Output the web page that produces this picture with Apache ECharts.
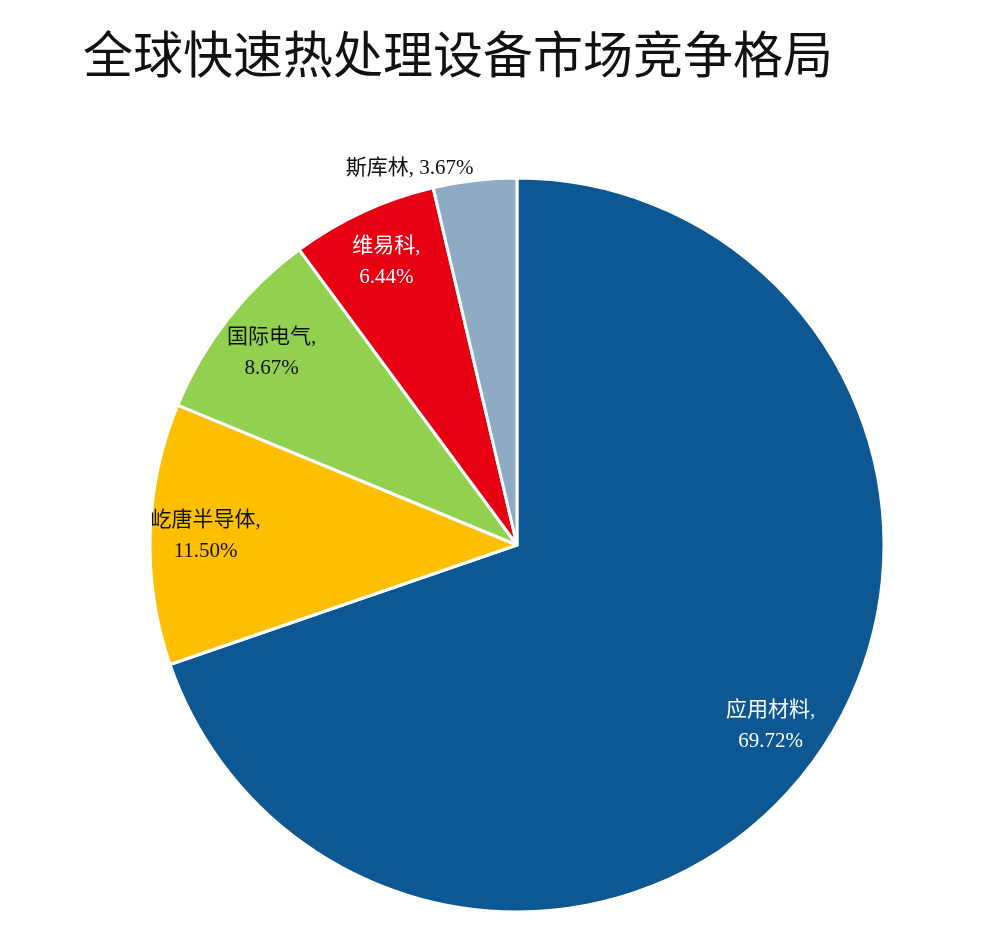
<!DOCTYPE html>
<html><head><meta charset="utf-8">
<script src="https://cdn.jsdelivr.net/npm/echarts@6/dist/echarts.min.js"></script>
<style>html,body{margin:0;padding:0;background:#fff}#c{width:1000px;height:928px}</style>
</head><body><div id="c"></div>
<script>
const categories = ['应用材料','屹唐半导体','国际电气','维易科','斯库林'];
const values = [69.72, 11.50, 8.67, 6.44, 3.67];
const colors = ['#0d5793','#fdbf00','#92d050','#e60012','#8eabc3'];
const labelColors = ['#fff','#111','#111','#fff','#111'];
const FONT = '"Liberation Serif","Noto Sans CJK SC",serif';
const fmt = p => p.name + ', ' + p.value.toFixed(2) + '%';
const fmt2 = p => p.name + ',\n' + p.value.toFixed(2) + '%';
const chart = echarts.init(document.getElementById('c'));
const center = [517, 545];
chart.setOption({
  title: {text: '全球快速热处理设备市场竞争格局', left: 78, top: 24,
    textStyle: {fontFamily: '"Noto Sans CJK SC",serif', fontWeight: 'normal', fontSize: 50, color: '#111'}},
  series: [
    {type: 'pie', center: center, radius: [0, 367], startAngle: 90, clockwise: true,
     silent: true, animation: false,
     itemStyle: {borderColor: '#fff', borderWidth: 3},
     label: {show: false}, labelLine: {show: false},
     data: categories.map((n,i)=>({name:n, value:values[i], itemStyle:{color:colors[i]},
       label: i===4 ? {show:true, position:'outside', formatter:fmt, color:'#111', fontSize:21, fontFamily:FONT, distanceToLabelLine:0} : {show:false},
       labelLine: i===4 ? {show:false, length:12, length2:0} : {show:false}}))
    },
    {type: 'pie', center: center, radius: [250, 367], startAngle: 90, clockwise: true,
     silent: true, animation: false,
     itemStyle: {color: 'rgba(0,0,0,0)'},
     label: {show: true, position: 'inside', formatter: fmt2, fontSize: 21, lineHeight: 31, fontFamily: FONT},
     labelLine: {show: false},
     data: categories.map((n,i)=>({name:n, value:values[i],
       label: i===4 ? {show:false} : {color: labelColors[i]}}))
    }
  ]
});
</script></body></html>
